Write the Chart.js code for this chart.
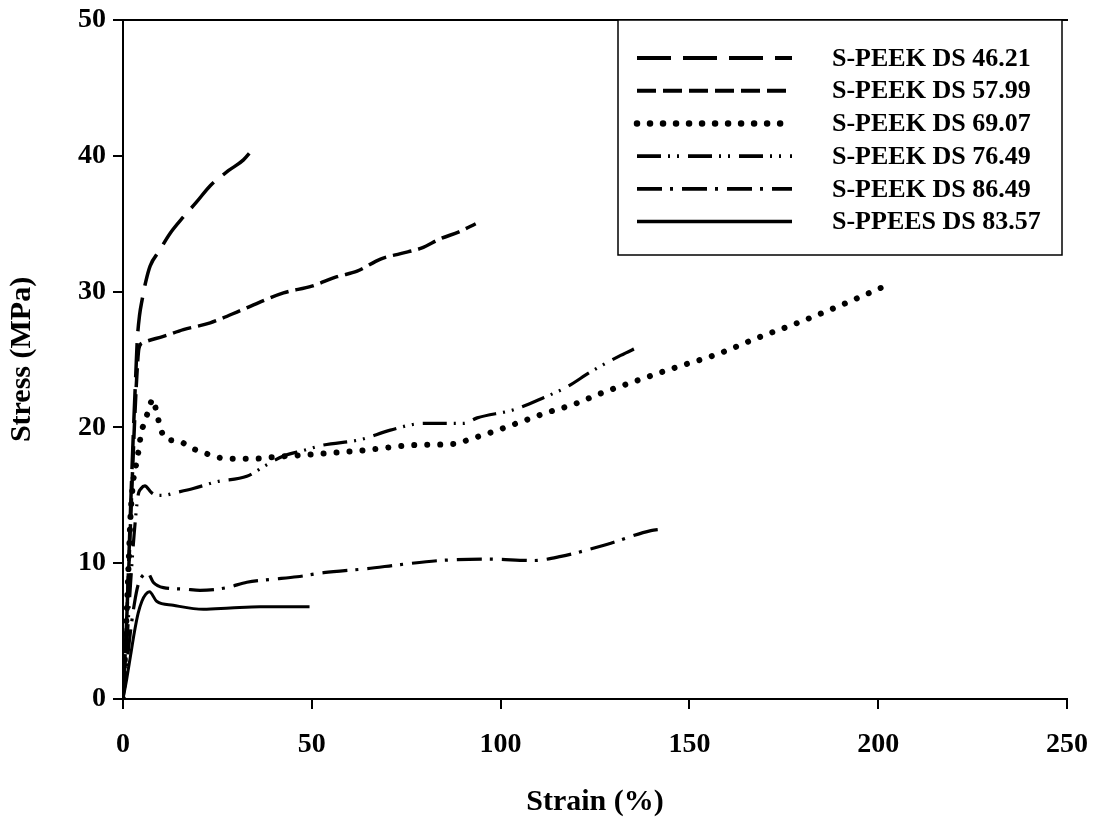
<!DOCTYPE html>
<html>
<head>
<meta charset="utf-8">
<script src="https://cdn.jsdelivr.net/npm/chart.js@4/dist/chart.umd.min.js"></script>
<style>
  html, body { margin: 0; padding: 0; background: #fff; }
  canvas { display: block; }
</style>
</head>
<body>
<canvas id="stressStrain" width="1095" height="822"></canvas>
<script>
// tensile curves, strain (%) vs stress (MPa)
const seriesLabels = [
    'S-PEEK DS 46.21',
    'S-PEEK DS 57.99',
    'S-PEEK DS 69.07',
    'S-PEEK DS 76.49',
    'S-PEEK DS 86.49',
    'S-PPEES DS 83.57'
];

const strain4621 = [0, 1, 2, 2.8, 3.4, 3.8, 4.4, 5.0, 6.0, 7.2, 9.6, 12.5, 16.0, 19.5, 23.1, 27.9, 31.9, 35.0];
const stress4621 = [0, 6, 14, 20, 24, 26.5, 28.3, 29.3, 30.7, 31.9, 33.0, 34.3, 35.5, 36.6, 37.8, 38.9, 39.7, 40.7];

const strain5799 = [0, 1, 2, 3, 3.6, 4.2, 5.0, 5.8, 10.7, 16, 23.1, 31.9, 42.5, 50, 56.7, 62, 68.2, 73.5, 79, 84.1, 89, 93.4];
const stress5799 = [0, 6, 13, 20, 23.5, 25.8, 26.2, 26.3, 26.7, 27.2, 27.7, 28.7, 29.9, 30.4, 31.1, 31.5, 32.4, 32.8, 33.2, 33.9, 34.4, 35.0];

const strain6907 = [0, 0.5, 1, 1.5, 2, 2.7, 3.5, 4.3, 4.8, 5.8, 7.0, 7.9, 8.9, 9.8, 11.1, 14.7, 18, 21.8, 25, 28.6, 35.5, 39, 49.6, 63.3, 77.5, 88.1, 91.6, 98.2, 105.3, 112.4, 119.4, 126.5, 136.7, 147.3, 157.5, 168.1, 178.7, 189.3, 203.4];
const stress6907 = [0, 3, 6.5, 10, 13.5, 16, 17.3, 18.6, 19.6, 20.4, 21.5, 22.1, 21.1, 20.1, 19.2, 19.0, 18.5, 18.1, 17.8, 17.7, 17.7, 17.8, 18.0, 18.3, 18.7, 18.8, 19.1, 19.7, 20.4, 21.1, 21.7, 22.5, 23.5, 24.5, 25.4, 26.6, 27.7, 28.9, 30.6];

const strain7649 = [0, 1, 2, 3, 4, 4.8, 5.8, 7.5, 9, 10.7, 14, 18.6, 24.8, 32.8, 37.2, 42.5, 47.8, 53.1, 62.9, 70.8, 79.7, 90.3, 93.8, 103.5, 111.5, 117.7, 123.9, 131.8, 136.3];
const stress7649 = [0, 4, 8.5, 12.3, 15.0, 15.5, 15.7, 15.2, 15.0, 15.0, 15.2, 15.5, 16.0, 16.4, 17.1, 17.9, 18.3, 18.7, 19.1, 19.8, 20.3, 20.3, 20.7, 21.3, 22.2, 23.0, 24.1, 25.3, 25.9];

const strain8649 = [0, 1, 2, 3, 4, 5, 6.5, 8.0, 10.7, 16, 20.4, 27.5, 32.8, 39, 46.1, 53.1, 64.6, 73.5, 84.1, 96.5, 108.8, 116, 128.3, 139.8, 142.4];
const stress8649 = [0, 2.5, 5, 7, 8.4, 9.0, 9.3, 8.6, 8.2, 8.1, 8.0, 8.2, 8.6, 8.8, 9.0, 9.3, 9.6, 9.9, 10.2, 10.3, 10.2, 10.5, 11.4, 12.4, 12.5];

const strain8357 = [0, 1, 2, 3, 4, 5, 6, 7.0, 8.9, 13.3, 21.3, 28.4, 36.3, 49.4];
const stress8357 = [0, 1.5, 3.2, 4.9, 6.3, 7.2, 7.7, 7.9, 7.2, 6.9, 6.6, 6.7, 6.8, 6.8];

const xTicksStep = 50;
const yTicksStep = 10;

const serif = '"Liberation Serif", "Times New Roman", serif';

function toPoints(xs, ys) {
    return xs.map((x, i) => ({ x: x, y: ys[i] }));
}

// dash patterns per curve (long dash, dash, dots, dash-dot-dot, dash-dot, solid)
const lineStyles = [
    { dash: [34, 12], width: 3.5, cap: 'butt' },
    { dash: [19, 7], width: 3.5, cap: 'butt' },
    { dash: [0.01, 13], width: 6, cap: 'round' },
    { dash: [24, 7, 2, 7, 2, 9], width: 3.2, cap: 'butt' },
    { dash: [25, 8, 3, 9], width: 3.2, cap: 'butt' },
    { dash: [], width: 3, cap: 'butt' }
];

const curves = [
    toPoints(strain4621, stress4621),
    toPoints(strain5799, stress5799),
    toPoints(strain6907, stress6907),
    toPoints(strain7649, stress7649),
    toPoints(strain8649, stress8649),
    toPoints(strain8357, stress8357)
];

const datasets = curves.map((pts, i) => ({
    label: seriesLabels[i],
    data: pts,
    borderColor: '#000',
    borderWidth: lineStyles[i].width,
    borderDash: lineStyles[i].dash,
    borderCapStyle: lineStyles[i].cap,
    borderJoinStyle: 'round',
    pointRadius: 0,
    fill: false,
    cubicInterpolationMode: 'monotone'
}));

// framed legend in the upper right corner of the plot
const boxedLegend = {
    id: 'boxedLegend',
    afterDraw(chart) {
        const ctx = chart.ctx;
        const area = chart.chartArea;
        const w = 444, h = 235;
        const left = area.right - 5 - w;
        const top = area.top;
        ctx.save();
        ctx.fillStyle = '#fff';
        ctx.fillRect(left, top, w, h);
        ctx.strokeStyle = '#000';
        ctx.lineWidth = 1.5;
        ctx.strokeRect(left, top, w, h);
        ctx.font = 'bold 26px ' + serif;
        ctx.textBaseline = 'middle';
        chart.data.datasets.forEach((ds, i) => {
            const y = top + 38 + i * 32.7;
            ctx.beginPath();
            ctx.setLineDash(ds.borderDash);
            ctx.lineCap = ds.borderCapStyle;
            ctx.lineWidth = ds.borderWidth + 0.5;
            ctx.moveTo(left + 19, y);
            ctx.lineTo(left + 174, y);
            ctx.stroke();
            ctx.setLineDash([]);
            ctx.fillStyle = '#000';
            ctx.fillText(ds.label, left + 214, y + 1);
        });
        ctx.restore();
    }
};

const tickFont = { family: serif, size: 28, weight: 'bold' };
const titleFont = { family: serif, size: 30, weight: 'bold' };

const ctx = document.getElementById('stressStrain').getContext('2d');

new Chart(ctx, {
    type: 'line',
    data: { datasets: datasets },
    options: {
        responsive: false,
        animation: false,
        layout: { padding: { top: 20, right: 28, left: 0, bottom: 0 } },
        plugins: {
            legend: { display: false },
            tooltip: { enabled: false }
        },
        scales: {
            x: {
                type: 'linear',
                min: 0,
                max: 250,
                ticks: { stepSize: xTicksStep, color: '#000', font: tickFont, padding: 19, maxRotation: 0 },
                grid: { drawOnChartArea: false, drawTicks: true, tickLength: 10, color: '#000', lineWidth: 2 },
                border: { display: true, color: '#000', width: 2 },
                title: { display: true, text: 'Strain (%)', color: '#000', font: titleFont, padding: { top: 0, bottom: 2 } },
                afterFit(scale) {
                    scale.height = 123;
                    scale.paddingLeft = 0;
                    scale.paddingRight = 0;
                }
            },
            xTop: {
                type: 'linear',
                position: 'top',
                min: 0,
                max: 250,
                ticks: { display: false },
                grid: { display: false, drawTicks: false },
                border: { display: true, color: '#000', width: 2 }
            },
            y: {
                min: 0,
                max: 50,
                ticks: { stepSize: yTicksStep, color: '#000', font: tickFont, padding: 7 },
                grid: { drawOnChartArea: false, drawTicks: true, tickLength: 10, color: '#000', lineWidth: 2 },
                border: { display: true, color: '#000', width: 2 },
                title: { display: true, text: 'Stress (MPa)', color: '#000', font: titleFont, padding: { top: 4, bottom: 0 } },
                afterFit(scale) {
                    scale.width = 123;
                    scale.paddingTop = 0;
                    scale.paddingBottom = 0;
                }
            }
        }
    },
    plugins: [boxedLegend]
});
</script>
</body>
</html>
